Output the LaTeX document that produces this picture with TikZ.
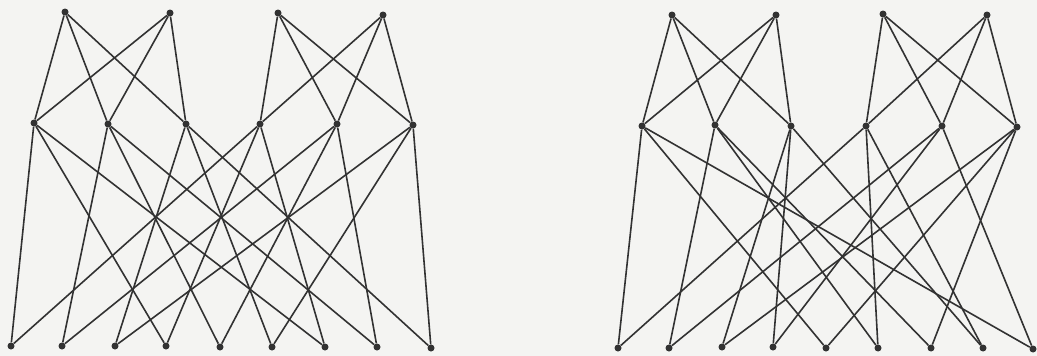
\documentclass[tikz,border=0pt]{standalone}
\definecolor{ink}{RGB}{50,50,50}
\definecolor{paper}{RGB}{244,244,242}
\tikzset{
  dot/.style={circle,fill=ink,inner sep=0pt,minimum size=7pt},
  edge/.style={draw=ink,line width=1.6pt}
}
\begin{document}
\begin{tikzpicture}[x=1pt,y=-1pt]
\fill[paper] (0,0) rectangle (1037,356);
\useasboundingbox (0,0) rectangle (1037,356);
% left graph
\foreach \n/\x/\y in {1/65/12,2/170/13,3/278/13,4/383/15}
  \node[dot] (lT\n) at (\x,\y) {};
\foreach \n/\x/\y in {1/34/123,2/108/124,3/186/124,4/260/124,5/337/124,6/413/125}
  \node[dot] (lM\n) at (\x,\y) {};
\foreach \n/\x/\y in {1/11/346,2/62/346,3/115/346,4/166/346,5/220/347,6/272/347,7/325/347,8/377/347,9/431/348}
  \node[dot] (lB\n) at (\x,\y) {};
% right graph
\foreach \n/\x/\y in {1/672/15,2/776/15,3/883/14,4/987/15}
  \node[dot] (rT\n) at (\x,\y) {};
\foreach \n/\x/\y in {1/642/126,2/715/125,3/791/126,4/866/126,5/942/126,6/1017/127}
  \node[dot] (rM\n) at (\x,\y) {};
\foreach \n/\x/\y in {1/618/348,2/669/348,3/722/347,4/773/347,5/826/348,6/878/348,7/931/348,8/983/348,9/1033/349}
  \node[dot] (rB\n) at (\x,\y) {};
% top-middle edges (both graphs)
\foreach \g in {l,r}{
  \foreach \t/\m in {1/1,1/2,1/3,2/1,2/2,2/3,3/4,3/5,3/6,4/4,4/5,4/6}
    \draw[edge] (\g T\t) -- (\g M\m);
}
% left middle-bottom
\foreach \m/\b in {1/1,1/4,1/7,4/1,4/4,4/7,2/2,2/5,2/8,5/2,5/5,5/8,3/3,3/6,3/9,6/3,6/6,6/9}
  \draw[edge] (lM\m) -- (lB\b);
% right middle-bottom
\foreach \m/\b in {1/1,1/5,1/9,2/2,2/6,2/7,3/3,3/4,3/8,4/1,4/6,4/8,5/2,5/4,5/9,6/3,6/5,6/7}
  \draw[edge] (rM\m) -- (rB\b);
\end{tikzpicture}
\end{document}
